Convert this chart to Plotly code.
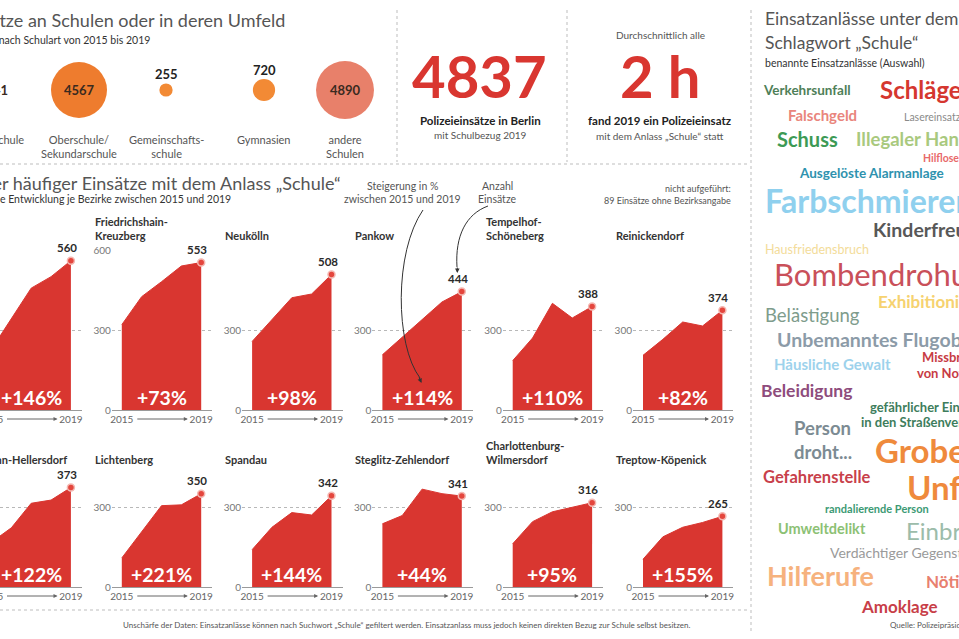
import plotly.graph_objects as go

# ---------------- data ----------------
years = [2015, 2016, 2017, 2018, 2019]
district_names = ["Mitte", "Friedrichshain-<br>Kreuzberg", "Neukölln", "Pankow",
                  "Tempelhof-<br>Schöneberg", "Reinickendorf",
                  "Marzahn-Hellersdorf", "Lichtenberg", "Spandau", "Steglitz-Zehlendorf",
                  "Charlottenburg-<br>Wilmersdorf", "Treptow-Köpenick"]
mitte = [228, 340, 457, 500, 560]
friedrichshain_kreuzberg = [320, 425, 481, 540, 553]
neukoelln = [257, 340, 421, 435, 508]
pankow = [207, 272, 337, 405, 444]
tempelhof_schoeneberg = [185, 270, 400, 345, 388]
reinickendorf = [205, 265, 330, 315, 374]
marzahn_hellersdorf = [168, 222, 314, 326, 373]
lichtenberg = [109, 208, 305, 308, 350]
spandau = [140, 224, 279, 270, 342]
steglitz_zehlendorf = [237, 268, 367, 350, 341]
charlottenburg_wilmersdorf = [162, 245, 282, 300, 316]
treptow_koepenick = [104, 188, 224, 242, 265]
increase_pct = [146, 73, 98, 114, 110, 82, 122, 221, 144, 44, 95, 155]

school_types = ["Grundschule", "Oberschule/<br>Sekundarschule", "Gemeinschafts-<br>schule",
                "Gymnasien", "andere<br>Schulen"]
school_counts = [7941, 4567, 255, 720, 4890]

total_2019 = "4837"
interval_text = "2 h"
unassigned = 89

incident_words = ["Verkehrsunfall", "Schlägerei", "Falschgeld", "Lasereinsatz", "Schuss",
                  "Illegaler Handel", "Hilflose Person", "Ausgelöste Alarmanlage",
                  "Farbschmierereien", "Kinderfreund", "Hausfriedensbruch", "Bombendrohung",
                  "Exhibitionist", "Belästigung", "Unbemanntes Flugobjekt", "Häusliche Gewalt",
                  "Missbrauch<br>von Notrufen", "Beleidigung",
                  "gefährlicher Eingriff<br>in den Straßenverkehr", "Person<br>droht...",
                  "Grober<br>Unfug", "Gefahrenstelle", "randalierende Person", "Umweltdelikt",
                  "Einbruch", "Verdächtiger Gegenstand", "Hilferufe", "Nötigung", "Amoklage"]

series = [mitte, friedrichshain_kreuzberg, neukoelln, pankow, tempelhof_schoeneberg,
          reinickendorf, marzahn_hellersdorf, lichtenberg, spandau, steglitz_zehlendorf,
          charlottenburg_wilmersdorf, treptow_koepenick]

# ---------------- layout helpers ----------------
W, H = 959, 639
FONT = "Lato, Open Sans, sans-serif"
RED = "#D93630"
GRAY = "#555555"


def X(px):
    return px / W


def Y(py):
    return 1 - py / H


fig = go.Figure()
ann = []
shapes = []
layout_axes = {}


def text(x, y, t, size=11, color=GRAY, xanchor="center", yanchor="middle", bold=False):
    if bold:
        t = "<br>".join("<b>%s</b>" % s for s in t.split("<br>"))
    ann.append(dict(x=X(x), y=Y(y), xref="paper", yref="paper", text=t, showarrow=False,
                    xanchor=xanchor, yanchor=yanchor, align=xanchor,
                    font=dict(size=size, color=color, family=FONT)))


def dline(x0, y0, x1, y1, color="#bdbdbd", dash="dot"):
    shapes.append(dict(type="line", xref="paper", yref="paper", x0=X(x0), y0=Y(y0), x1=X(x1), y1=Y(y1),
                       line=dict(color=color, width=1, dash=dash)))


# ---------------- small multiples ----------------
PPY = 19.85
for i, vals in enumerate(series):
    row, col = divmod(i, 6)
    n = i + 1
    xs = "" if n == 1 else str(n)
    s = -8.5 + 130.3 * col
    e = s + 4 * PPY
    left, right = s - 10, e + 11
    if left < 0:
        r0 = 2015 + (0 - s) / PPY
        left = 0
    else:
        r0 = 2015 - 10 / PPY
    r1 = 2019 + 11 / PPY
    base = 410 if row == 0 else 587
    top = base - 160
    layout_axes["xaxis" + xs] = dict(domain=[X(left), X(right)], range=[r0, r1], anchor="y" + xs,
                                     tickvals=[2015, 2019], ticktext=["2015", "2019"], ticks="",
                                     showgrid=False, zeroline=False, showline=True, automargin=False,
                                     linecolor="#9a9a9a", linewidth=1,
                                     tickfont=dict(size=10, color="#666", family=FONT))
    layout_axes["yaxis" + xs] = dict(domain=[Y(base), Y(top)], range=[0, 600], anchor="x" + xs,
                                     tickvals=[0, 300, 600] if max(vals) > 520 else [0, 300],
                                     ticks="", showgrid=True, gridcolor="#b8b8b8", griddash="dot",
                                     gridwidth=1, zeroline=False, automargin=False, showline=False,
                                     tickfont=dict(size=10, color="#777", family=FONT))
    fig.add_trace(go.Scatter(x=years, y=vals, mode="lines", fill="tozeroy", fillcolor=RED,
                             line=dict(color=RED, width=1), xaxis="x" + xs, yaxis="y" + xs,
                             hoverinfo="skip"))
    fig.add_trace(go.Scatter(x=[years[-1]], y=[vals[-1]], mode="markers", cliponaxis=False,
                             marker=dict(size=7, color="#E4463D", line=dict(color="#F4B8B2", width=1.5)),
                             xaxis="x" + xs, yaxis="y" + xs, hoverinfo="skip"))
    ann.append(dict(x=years[-1], y=vals[-1], xref="x" + xs, yref="y" + xs, text="<b>%d</b>" % vals[-1],
                    showarrow=False, yshift=13, xshift=-4,
                    font=dict(size=11.5, color="#2a2a2a", family=FONT)))
    ann.append(dict(x=2017, y=48, xref="x" + xs, yref="y" + xs, text="<b>+%d%%</b>" % increase_pct[i],
                    showarrow=False, font=dict(size=19.5, color="white", family=FONT)))
    # district name
    text(s - 29, 244 if row == 0 else 468, district_names[i], size=11, color="#333",
         xanchor="left", yanchor="bottom", bold=True)
    # arrow between years
    ann.append(dict(x=X(s + 66), y=Y(base + 9), xref="paper", yref="paper", text="", showarrow=True,
                    ax=-52, ay=0, arrowhead=2, arrowsize=0.8, arrowwidth=1, arrowcolor="#666"))
    if s < 0:
        text(s, base + 9, "2015", size=10, color="#666")

# ---------------- bubbles ----------------
bubble_x = [-7, 79, 166, 264, 345]
bubble_colors = ["#FBC12E", "#EE7C2E", "#F28A35", "#F28A35", "#E8806A"]
ref_d = 56
sizeref = 2 * school_counts[1] / ref_d ** 2
layout_axes["xaxis13"] = dict(domain=[0, X(396)], range=[0, 396], visible=False, anchor="y13",
                              automargin=False)
layout_axes["yaxis13"] = dict(domain=[Y(164), 1], range=[164, 0], visible=False, anchor="x13",
                              automargin=False)
fig.add_trace(go.Scatter(x=bubble_x, y=[90] * 5, mode="markers", cliponaxis=False,
                         marker=dict(size=school_counts, sizemode="area", sizeref=sizeref,
                                     color=bubble_colors, line=dict(width=0), opacity=1),
                         xaxis="x13", yaxis="y13", hoverinfo="skip"))
for bx, cnt, lab in zip(bubble_x, school_counts, school_types):
    r = ref_d / 2 * (cnt / school_counts[1]) ** 0.5
    if cnt >= 1000:
        text(bx, 90, str(cnt), size=13, color="#3a2a1f", bold=True)
    else:
        text(bx, 90 - r - 9, str(cnt), size=13, color="#222", bold=True)
    text(bx, 131, lab, size=11, color=GRAY, yanchor="top", xanchor="center")

# ---------------- headings ----------------
text(287, 20, "Polizeieinsätze an Schulen oder in deren Umfeld", size=18, color=GRAY, xanchor="right")
text(152, 40, "Einsätze nach Schulart von 2015 bis 2019", size=10.5, color="#333", xanchor="right")

text(479, 76, "<b>%s</b>" % total_2019, size=58, color=RED)
text(480, 120, "Polizeieinsätze in Berlin", size=11.5, color="#222", bold=True)
text(480, 135, "mit Schulbezug 2019", size=10, color=GRAY)

text(660, 35, "Durchschnittlich alle", size=10, color=GRAY)
text(660, 76, "<b>%s</b>" % interval_text, size=58, color=RED)
text(659, 120, "fand 2019 ein Polizeieinsatz", size=11.5, color="#222", bold=True)
text(659, 136, "mit dem Anlass „Schule“ statt", size=10, color=GRAY)

text(343, 183, "Immer häufiger Einsätze mit dem Anlass „Schule“", size=18, color=GRAY, xanchor="right")
text(233, 199, "Prozentuale Entwicklung je Bezirke zwischen 2015 und 2019", size=10.5, color="#333",
     xanchor="right")

text(402, 186, "Steigerung in %", size=10.5, color=GRAY)
text(402, 199, "zwischen 2015 und 2019", size=10.5, color=GRAY)
text(497, 186, "Anzahl", size=10.5, color=GRAY)
text(497, 199, "Einsätze", size=10.5, color=GRAY)
text(733, 188, "nicht aufgeführt:", size=9, color=GRAY, xanchor="right")
text(733, 200, "%d Einsätze ohne Bezirksangabe" % unassigned, size=9, color=GRAY, xanchor="right")

# curved arrows
shapes.append(dict(type="path", xref="paper", yref="paper",
                   path="M %f,%f C %f,%f %f,%f %f,%f" % (X(423), Y(210), X(394), Y(252), X(395), Y(345),
                                                          X(420), Y(378)),
                   line=dict(color="#333", width=1)))
shapes.append(dict(type="path", xref="paper", yref="paper",
                   path="M %f,%f C %f,%f %f,%f %f,%f" % (X(488), Y(206), X(466), Y(214), X(455), Y(236),
                                                          X(457), Y(267)),
                   line=dict(color="#333", width=1)))
ann.append(dict(x=X(421.5), y=Y(383), xref="paper", yref="paper", text="", showarrow=True,
                ax=-3, ay=-7, arrowhead=2, arrowsize=0.9, arrowwidth=1, arrowcolor="#333", standoff=0))
ann.append(dict(x=X(457.3), y=Y(273), xref="paper", yref="paper", text="", showarrow=True,
                ax=0, ay=-7, arrowhead=2, arrowsize=0.9, arrowwidth=1, arrowcolor="#333", standoff=0))

text(406, 625, "Unschärfe der Daten: Einsatzanlässe können nach Suchwort „Schule“ gefiltert werden. "
               "Einsatzanlass muss jedoch keinen direkten Bezug zur Schule selbst besitzen.",
     size=8, color=GRAY)

# separators
dline(397, 10, 397, 162)
dline(567, 10, 567, 162)
dline(751, 10, 751, 632)
dline(0, 164, 750, 164)
dline(0, 610, 748, 610)

# ---------------- word cloud ----------------
text(763, 19, "Einsatzanlässe unter dem", size=17.5, color=GRAY, xanchor="left")
text(763, 43, "Schlagwort „Schule“", size=17.5, color=GRAY, xanchor="left")
text(763, 63, "benannte Einsatzanlässe (Auswahl)", size=10.5, color="#333", xanchor="left")

# per word: list of line positions (x_left, y_center), font size, colour, bold
wc_style = [
    ([(760.7, 90)], 13.5, "#4F7F58", True),
    ([(878, 89)], 24, "#D5372F", True),
    ([(785.7, 115)], 15, "#E9857C", True),
    ([(901.7, 117)], 10.5, "#8A8A8A", False),
    ([(775, 139.5)], 20, "#3D9A55", True),
    ([(854, 139)], 18.5, "#A9C97E", True),
    ([(920.7, 158)], 10.5, "#E8696A", True),
    ([(796.7, 173)], 13.5, "#2E92AE", True),
    ([(763, 200)], 32, "#8FD0EE", True),
    ([(870.7, 230)], 19.5, "#585858", True),
    ([(762.7, 249)], 12.5, "#F3DC9A", False),
    ([(771.7, 274)], 31, "#C9505A", False),
    ([(876, 301.7)], 17, "#F6D270", True),
    ([(763, 315)], 18.5, "#7E9C8C", False),
    ([(775, 339)], 19.5, "#8C9BA8", True),
    ([(771.7, 364)], 15, "#9DD2EC", True),
    ([(920, 357), (915, 373)], 13, "#C73B44", True),
    ([(759.3, 390.7)], 17.5, "#8E4C7C", True),
    ([(868, 407), (859, 422)], 13, "#3E7D5C", True),
    ([(791.7, 428), (791.7, 452)], 18.5, "#7C8B93", True),
    ([(873, 450), (905, 487)], 33, "#EF8A3C", True),
    ([(760.7, 476.7)], 16.5, "#C8404A", True),
    ([(822.7, 509)], 11, "#3C9A74", True),
    ([(776, 528)], 14.5, "#8CC174", True),
    ([(904, 530)], 24, "#9CBCAA", False),
    ([(828.3, 552.7)], 14, "#9A9A9A", False),
    ([(765, 575)], 27, "#F6B27E", True),
    ([(924, 581.7)], 17, "#E8806F", True),
    ([(859.3, 606)], 17, "#C83E48", True),
]
for word, (pos, size, color, bold) in zip(incident_words, wc_style):
    for line, (px, py) in zip(word.split("<br>"), pos):
        text(px, py, line, size=size, color=color, xanchor="left", bold=bold)

text(888, 625, "Quelle: Polizeipräsident in Berlin", size=8, color=GRAY, xanchor="left")

fig.update_layout(template="none", width=W, height=H, margin=dict(l=0, r=0, t=0, b=0, pad=0),
                  showlegend=False, paper_bgcolor="white", plot_bgcolor="white",
                  annotations=ann, shapes=shapes, font=dict(family=FONT), **layout_axes)
fig.write_html("out.html", config={"displayModeBar": False, "staticPlot": True},
               post_script="document.body.style.margin='0px';document.body.style.overflow='hidden';")
